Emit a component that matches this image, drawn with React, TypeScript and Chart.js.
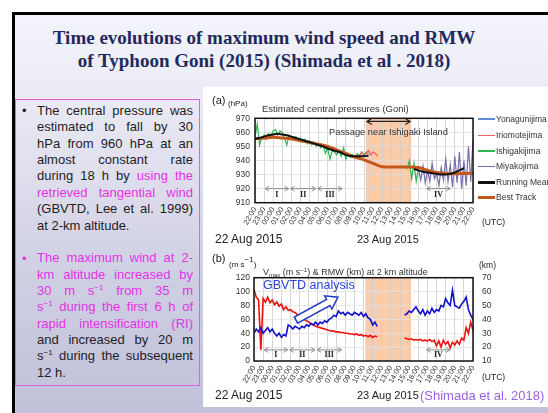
import React, { useEffect, useRef } from "react";
import { Chart, registerables } from "chart.js";
Chart.register(...registerables);

const SANS = "'Liberation Sans', Arial, sans-serif";
const SERIF = "'Liberation Serif', 'Times New Roman', serif";

// x axis: hours after 22:00 UTC 22 Aug 2015
const timeLabels = ["22:00","23:00","00:00","01:00","02:00","03:00","04:00","05:00","06:00","07:00","08:00","09:00","10:00","11:00","12:00","13:00","14:00","15:00","16:00","17:00","18:00","19:00","20:00","21:00","22:00"];

// passage near Ishigaki Island (hours after 22:00)
const passageStart = 12.2;
const passageEnd = 17.2;

// phases
const phaseLabels = ["I", "II", "III", "IV"];
const phaseStart = [1.0, 3.8, 6.8, 18.8];
const phaseEnd = [3.8, 6.8, 9.7, 21.6];

// ---------- (a) central pressure (hPa) ----------
const pressureMin = 910;
const pressureMax = 970;
const bestTrackStart = 0, bestTrackStep = 1;
const bestTrack = [955.5, 956, 956.5, 956, 955.5, 954, 953, 951.5, 950, 947.5, 945, 942.5, 940.5, 938, 935.5, 935.3, 935.3, 935.3, 935, 933, 931.5, 930.8, 930.6, 930.8, 931];
const runMeanAStart = 0, runMeanStep = 0.5;
const runMeanA = [955.5, 956, 957, 958, 958.5, 959, 958.5, 958, 957, 956, 955, 954, 953, 952, 951, 950, 948.5, 947.5, 946.5, 945.5, 944, 943.2, 943, 943, 943, 943.5];
const runMeanBStart = 17.5;
const runMeanB = [934, 933, 932, 931.5, 931, 930.5, 930, 930, 930.5, 931.5, 933, 934.5];
const stationStep = 0.25;
const ishigakiAStart = 0;
const ishigakiA = [957, 966, 951, 956, 958, 955, 959, 957, 961, 962, 958, 961, 960, 956, 951, 958, 957, 955, 957, 954, 956, 953, 955, 952, 954, 951, 953, 950, 952, 949, 951, 945, 949, 941, 947, 946, 944, 947, 943, 949, 941, 945, 942, 944, 942, 945, 943, 946, 944, 946, 945];
const ishigakiBStart = 16.75;
const ishigakiB = [934, 940, 927, 938, 925, 935];
const iriomoteStart = 11.5;
const iriomote = [944, 946, 943, 945, 947, 944, 946, 945, 943];
const miyakoStart = 18.0;
const miyako = [934, 926, 936, 924, 933, 925, 938, 927, 931, 922, 935, 926, 941, 925, 937, 921, 943, 924, 946, 920, 940, 922, 950, 925, 955];

// ---------- (b) Vmax (m/s) & RMW (km) ----------
const gbvtdStep = 0.25;
const segAStart = 0;
const segBStart = 16.5;
const vmaxA = [103, 92, 88, 16, 90, 85, 92, 84, 88, 81, 85, 79, 82, 74, 78, 73, 74, 71, 70, 67, 65, 63, 60, 58, 56, 54, 52, 50, 49, 48, 47, 46, 45, 44, 43, 43, 42, 42, 41, 41, 40, 40, 39, 39, 38, 39, 37, 38, 36, 37, 35, 37, 34, 36, 35];
const rmwA = [30, 33, 31, 34, 30, 32, 34, 31, 33, 30, 28, 30, 27, 29, 28, 36, 35, 33, 35, 34, 33, 35, 34, 36, 35, 37, 36, 38, 36, 38, 37, 39, 38, 40, 41, 43, 42, 46, 44, 45, 43, 45, 44, 43, 45, 44, 43, 45, 42, 44, 41, 40, 36, 38, 35];
const vmaxB = [33, 32, 31, 32, 30, 31, 30, 31, 29, 30, 29, 31, 28, 30, 22, 29, 20, 30, 24, 28, 19, 27, 23, 29, 24, 33, 30, 48, 40, 56, 44];
const rmwB = [43, 44, 46, 45, 47, 49, 46, 44, 47, 43, 46, 44, 48, 45, 47, 46, 50, 49, 55, 52, 50, 61, 50, 49, 48, 51, 53, 56, 47, 43, 40];

// annotation positions in data units
const phaseArrowA = 920, phaseLabelA = 915.5;
const phaseArrowB = 16, phaseLabelB = 8.5;
const passageArrowY = 967.8, passageTextY = 959.8;
const gbvtdArrowFrom = { x: 4.6, y: 59 };
const gbvtdArrowTo = { x: 9.2, y: 92 };

const legendNames = ["Yonagunijima", "Iriomotejima", "Ishigakijima", "Miyakojima", "Running Mean", "Best Track"];
const legendColors = ["#5b8fd6", "#f06060", "#2fb552", "#7a6ea8", "#111111", "#c4571c"];
const legendWidths = [1.5, 1.5, 1.5, 1.5, 3, 3];

const toPoints = (start: number, step: number, values: number[]) =>
  values.map((v, i) => ({ x: start + i * step, y: v }));

function arrowLine(ctx: CanvasRenderingContext2D, x0: number, x1: number, y: number, color: string, lw: number, head: number) {
  ctx.save();
  ctx.strokeStyle = color;
  ctx.lineWidth = lw;
  ctx.beginPath();
  ctx.moveTo(x0, y);
  ctx.lineTo(x1, y);
  ctx.moveTo(x0 + head, y - head * 0.6);
  ctx.lineTo(x0, y);
  ctx.lineTo(x0 + head, y + head * 0.6);
  ctx.moveTo(x1 - head, y - head * 0.6);
  ctx.lineTo(x1, y);
  ctx.lineTo(x1 - head, y + head * 0.6);
  ctx.stroke();
  ctx.restore();
}

function shade(chart: any) {
  const { ctx, chartArea, scales } = chart;
  const x0 = scales.x.getPixelForValue(passageStart);
  const x1 = scales.x.getPixelForValue(passageEnd);
  ctx.save();
  ctx.fillStyle = "#f9ccab";
  ctx.fillRect(x0, chartArea.top, x1 - x0, chartArea.bottom - chartArea.top);
  ctx.restore();
}

function frame(chart: any) {
  const { ctx, chartArea } = chart;
  ctx.save();
  ctx.strokeStyle = "#111";
  ctx.lineWidth = 1.5;
  ctx.strokeRect(chartArea.left, chartArea.top, chartArea.right - chartArea.left, chartArea.bottom - chartArea.top);
  ctx.restore();
}

function phases(chart: any, yScale: any, arrowVal: number, labelVal: number) {
  const { ctx, scales } = chart;
  const ya = yScale.getPixelForValue(arrowVal);
  const yl = yScale.getPixelForValue(labelVal);
  phaseLabels.forEach((lab, i) => {
    const x0 = scales.x.getPixelForValue(phaseStart[i]);
    const x1 = scales.x.getPixelForValue(phaseEnd[i]);
    arrowLine(ctx, x0 + 1, x1 - 1, ya, "#8c8c8c", 1, 4);
    ctx.save();
    ctx.fillStyle = "#222";
    ctx.font = "bold 8px " + SERIF;
    ctx.textAlign = "center";
    ctx.textBaseline = "middle";
    ctx.fillText(lab, (x0 + x1) / 2, yl);
    ctx.restore();
  });
}

const xAxis = (height: number) => ({
  type: "linear",
  min: 0,
  max: 24,
  afterBuildTicks: (s: any) => {
    s.ticks = timeLabels.map((_, i) => ({ value: i }));
  },
  afterFit: (s: any) => {
    s.height = height;
  },
  ticks: {
    autoSkip: false,
    minRotation: 60,
    maxRotation: 60,
    padding: 3,
    color: "#333",
    font: { family: SANS, size: 7.5 },
    callback: (v: number) => timeLabels[Math.round(v)],
  },
  grid: { color: "#cdcdcd", lineWidth: 0.8, drawTicks: false },
  border: { display: false },
});

export default function App() {
  const refA = useRef<HTMLCanvasElement>(null);
  const refB = useRef<HTMLCanvasElement>(null);

  useEffect(() => {
    const line = (label: string, data: any[], color: string, width: number, extra: any = {}) => ({
      label,
      data,
      borderColor: color,
      backgroundColor: color,
      borderWidth: width,
      pointRadius: 0,
      fill: false,
      ...extra,
    });

    const chartA = new Chart(refA.current as HTMLCanvasElement, {
      type: "line",
      data: {
        datasets: [
          line("Running Mean", toPoints(runMeanAStart, runMeanStep, runMeanA), "#111111", 2, { cubicInterpolationMode: "monotone" }),
          line("Running Mean ", toPoints(runMeanBStart, runMeanStep, runMeanB), "#111111", 2, { cubicInterpolationMode: "monotone" }),
          line("Best Track", toPoints(bestTrackStart, bestTrackStep, bestTrack), "#c4571c", 3, { cubicInterpolationMode: "monotone" }),
          line("Iriomotejima", toPoints(iriomoteStart, stationStep, iriomote), "#f06060", 1.2),
          line("Ishigakijima", toPoints(ishigakiAStart, stationStep, ishigakiA), "#2fb552", 1.2),
          line("Ishigakijima ", toPoints(ishigakiBStart, stationStep, ishigakiB), "#2fb552", 1.2),
          line("Miyakojima", toPoints(miyakoStart, stationStep, miyako), "#7a6ea8", 1.2),
        ],
      },
      options: {
        animation: false,
        responsive: false,
        devicePixelRatio: 1,
        layout: { padding: { left: 0, right: 75, top: 30.3, bottom: 0 } },
        plugins: { legend: { display: false }, tooltip: { enabled: false } },
        scales: {
          x: xAxis(37.3) as any,
          y: {
            min: pressureMin,
            max: pressureMax,
            afterFit: (s: any) => {
              s.width = 50;
            },
            ticks: { stepSize: 10, padding: 5, color: "#333", font: { family: SANS, size: 8.5 } },
            grid: { color: "#dadada", lineWidth: 0.8, drawTicks: false },
            border: { display: false },
          },
        },
      },
      plugins: [
        {
          id: "annotA",
          beforeDraw: (chart: any) => shade(chart),
          afterDatasetsDraw: (chart: any) => {
            const { ctx, scales } = chart;
            frame(chart);
            phases(chart, scales.y, phaseArrowA, phaseLabelA);
            const x0 = scales.x.getPixelForValue(passageStart);
            const x1 = scales.x.getPixelForValue(passageEnd);
            arrowLine(ctx, x0 + 1, x1 - 1, scales.y.getPixelForValue(passageArrowY), "#222", 1.2, 5);
            ctx.save();
            ctx.fillStyle = "#333";
            ctx.font = "9.3px " + SANS;
            ctx.textAlign = "center";
            ctx.textBaseline = "middle";
            ctx.fillText("Passage near Ishigaki Island", (x0 + x1) / 2, scales.y.getPixelForValue(passageTextY));
            ctx.restore();
          },
        },
      ],
    } as any);

    const chartB = new Chart(refB.current as HTMLCanvasElement, {
      type: "line",
      data: {
        datasets: [
          line("RMW", toPoints(segAStart, gbvtdStep, rmwA), "#1010c8", 1.6, { yAxisID: "y1" }),
          line("RMW ", toPoints(segBStart, gbvtdStep, rmwB), "#1010c8", 1.6, { yAxisID: "y1" }),
          line("Vmax", toPoints(segAStart, gbvtdStep, vmaxA), "#ee1111", 1.6, { yAxisID: "y" }),
          line("Vmax ", toPoints(segBStart, gbvtdStep, vmaxB), "#ee1111", 1.6, { yAxisID: "y" }),
        ],
      },
      options: {
        animation: false,
        responsive: false,
        devicePixelRatio: 1,
        layout: { padding: { left: 0, right: 0, top: 37.7, bottom: 0 } },
        plugins: { legend: { display: false }, tooltip: { enabled: false } },
        scales: {
          x: xAxis(46) as any,
          y: {
            position: "left",
            min: 0,
            max: 120,
            afterFit: (s: any) => {
              s.width = 49;
            },
            ticks: { stepSize: 20, padding: 4, color: "#333", font: { family: SANS, size: 8.5 } },
            grid: { color: "#e2e2e2", lineWidth: 0.8, drawTicks: false },
            border: { display: false },
          },
          y1: {
            position: "right",
            min: 10,
            max: 70,
            afterFit: (s: any) => {
              s.width = 75;
            },
            ticks: { stepSize: 10, padding: 9, color: "#333", font: { family: SANS, size: 8.5 } },
            grid: { display: false, drawTicks: false },
            border: { display: false },
          },
        },
      },
      plugins: [
        {
          id: "annotB",
          beforeDraw: (chart: any) => shade(chart),
          afterDatasetsDraw: (chart: any) => {
            const { ctx, scales } = chart;
            frame(chart);
            phases(chart, scales.y, phaseArrowB, phaseLabelB);
            // hollow arrow
            const tx = scales.x.getPixelForValue(gbvtdArrowFrom.x);
            const ty = scales.y.getPixelForValue(gbvtdArrowFrom.y);
            const px = scales.x.getPixelForValue(gbvtdArrowTo.x);
            const py = scales.y.getPixelForValue(gbvtdArrowTo.y);
            const len = Math.hypot(px - tx, py - ty);
            const ux = (px - tx) / len, uy = (py - ty) / len;
            const nx = -uy, ny = ux;
            const w = 3.5, hw = 7.5, hl = 11;
            const bx = px - ux * hl, by = py - uy * hl;
            ctx.save();
            ctx.beginPath();
            ctx.moveTo(tx + nx * w, ty + ny * w);
            ctx.lineTo(bx + nx * w, by + ny * w);
            ctx.lineTo(bx + nx * hw, by + ny * hw);
            ctx.lineTo(px, py);
            ctx.lineTo(bx - nx * hw, by - ny * hw);
            ctx.lineTo(bx - nx * w, by - ny * w);
            ctx.lineTo(tx - nx * w, ty - ny * w);
            ctx.closePath();
            ctx.fillStyle = "#ffffff";
            ctx.fill();
            ctx.strokeStyle = "#2038c8";
            ctx.lineWidth = 1.5;
            ctx.stroke();
            ctx.restore();
          },
        },
      ],
    } as any);

    return () => {
      chartA.destroy();
      chartB.destroy();
    };
  }, []);

  const T = (p: { x: number; cy: number; size: number; color?: string; weight?: number | string; family?: string; children: any }) => (
    <div
      style={{
        position: "absolute",
        left: p.x,
        top: p.cy - p.size / 2,
        fontSize: p.size,
        lineHeight: 1,
        whiteSpace: "nowrap",
        color: p.color || "#222",
        fontWeight: (p.weight as any) || 400,
        fontFamily: p.family || SANS,
      }}
    >
      {p.children}
    </div>
  );

  const sup = (t: string) => (
    <span style={{ fontSize: 8, verticalAlign: 5, lineHeight: 0 }}>{t}</span>
  );
  const PINK = "#e433e4";
  const lineStyle = (last: boolean) => ({
    textAlign: "justify" as const,
    textAlignLast: (last ? "left" : "justify") as any,
    height: 16.4,
  });

  const bullet1: any[] = [
    "The central pressure was",
    "estimated to fall by 30",
    "hPa from 960 hPa at an",
    "almost constant rate",
    <>during 18 h by <span style={{ color: PINK }}>using the</span></>,
    <span style={{ color: PINK }}>retrieved tangential wind</span>,
    "(GBVTD, Lee et al. 1999)",
    "at 2-km altitude.",
  ];
  const bullet2: any[] = [
    <span style={{ color: PINK }}>The maximum wind at 2-</span>,
    <span style={{ color: PINK }}>km altitude increased by</span>,
    <span style={{ color: PINK }}>30 m s{sup("−1")} from 35 m</span>,
    <span style={{ color: PINK }}>s{sup("−1")} during the first 6 h of</span>,
    <span style={{ color: PINK }}>rapid intensification (RI)</span>,
    "and increased by 20 m",
    <>s{sup("−1")} during the subsequent</>,
    "12 h.",
  ];

  return (
    <div style={{ position: "fixed", left: 0, top: 0, width: 548, height: 413, overflow: "hidden", background: "#ffffff", fontFamily: SANS }}>
      {/* slide */}
      <div
        style={{
          position: "absolute",
          left: 12,
          top: 12,
          width: 560,
          height: 420,
          borderLeft: "3px solid #000",
          borderTop: "3px solid #000",
          background: "linear-gradient(to bottom, #f3f3fa 0%, #ececf6 18%, #d6d6e8 50%, #c6c6de 80%, #c0c0d9 100%)",
        }}
      />
      {/* title */}
      <div
        style={{
          position: "absolute",
          left: 14,
          top: 25.5,
          width: 500,
          textAlign: "center",
          fontFamily: SERIF,
          fontWeight: 700,
          fontSize: 19,
          lineHeight: "23px",
          color: "#1f2b5c",
        }}
      >
        <div>Time evolutions of maximum wind speed and RMW</div>
        <div>of Typhoon Goni (2015) (Shimada et al . 2018)</div>
      </div>
      {/* text box */}
      <div style={{ position: "absolute", left: 15, top: 99, width: 183, height: 285, border: "1.5px solid #e060e0" }} />
      <div style={{ position: "absolute", left: 37, top: 102.8, width: 156, fontSize: 13, lineHeight: "16.4px", color: "#1e1e1e", fontFamily: SANS }}>
        <div style={{ position: "absolute", left: -15, top: 0 }}>•</div>
        {bullet1.map((l, i) => (
          <div key={"a" + i} style={lineStyle(i === bullet1.length - 1)}>{l}</div>
        ))}
        <div style={{ height: 16.2 }} />
        <div style={{ position: "absolute", left: -15, top: 147.8, color: PINK }}>•</div>
        {bullet2.map((l, i) => (
          <div key={"b" + i} style={lineStyle(i === bullet2.length - 1)}>{l}</div>
        ))}
      </div>
      {/* image panel */}
      <div style={{ position: "absolute", left: 203, top: 87, width: 345, height: 320, background: "#ffffff" }} />
      <canvas ref={refA} width={343} height={152} style={{ position: "absolute", left: 205, top: 88, width: 343, height: 152 }} />
      <canvas ref={refB} width={343} height={167} style={{ position: "absolute", left: 205, top: 240, width: 343, height: 167 }} />

      {/* chart a texts */}
      <T x={212} cy={100} size={11}>(a)</T>
      <T x={228} cy={104} size={8}>(hPa)</T>
      <T x={262} cy={109} size={9.5} color="#333">Estimated central pressures (Goni)</T>
      <T x={215} cy={239} size={12}>22 Aug 2015</T>
      <T x={357} cy={239} size={11}>23 Aug 2015</T>
      <T x={482} cy={222} size={8.5}>(UTC)</T>
      {legendNames.map((n, i) => {
        const cy = [119, 135.5, 151, 166.5, 182, 197][i];
        return (
          <React.Fragment key={n}>
            <div style={{ position: "absolute", left: 478, top: cy - legendWidths[i] / 2, width: 17, height: legendWidths[i], background: legendColors[i] }} />
            <T x={496} cy={cy} size={8.5} color="#333">{n}</T>
          </React.Fragment>
        );
      })}

      {/* chart b texts */}
      <T x={212} cy={258} size={11}>(b)</T>
      <T x={229} cy={264} size={8}>(m s{sup("−1")})</T>
      <T x={263} cy={271} size={9} color="#333">
        V<span style={{ fontSize: 6, verticalAlign: -2 }}>max</span> (m s<span style={{ fontSize: 6, verticalAlign: 3 }}>−1</span>) &amp; RMW (km) at 2 km altitude
      </T>
      <T x={263} cy={285} size={12.5} color="#2a44d8">GBVTD analysis</T>
      <T x={479} cy={265} size={8.5}>(km)</T>
      <T x={482} cy={377} size={8.5}>(UTC)</T>
      <T x={215} cy={395} size={12}>22 Aug 2015</T>
      <T x={357} cy={395} size={11}>23 Aug 2015</T>
      <T x={420} cy={395} size={13} color="#9a62e2">(Shimada et al. 2018)</T>
    </div>
  );
}
